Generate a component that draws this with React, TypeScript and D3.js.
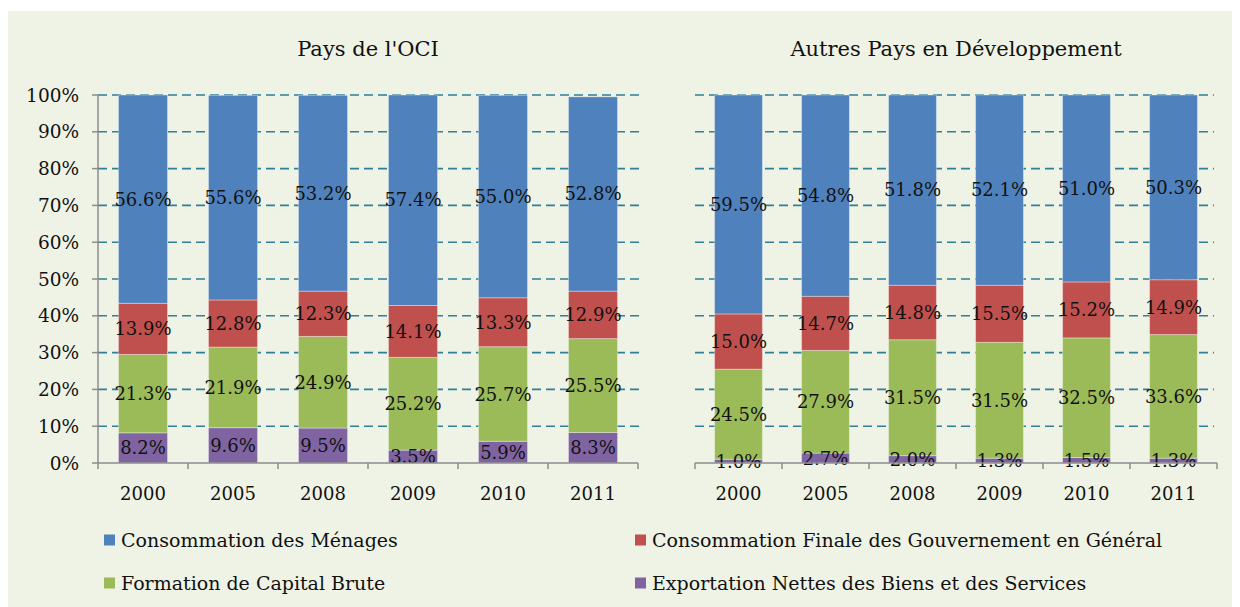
import React from "react";
import * as d3 from "d3";

const years = ["2000", "2005", "2008", "2009", "2010", "2011"];
const seriesNames = [
  "Exportation Nettes des Biens et des Services",
  "Formation de Capital Brute",
  "Consommation Finale des Gouvernement en Général",
  "Consommation des Ménages",
];
const seriesColors = ["#8064a2", "#9bbb59", "#c0504d", "#4f81bd"];

// OCI countries
const ociExports = [8.2, 9.6, 9.5, 3.5, 5.9, 8.3];
const ociCapital = [21.3, 21.9, 24.9, 25.2, 25.7, 25.5];
const ociGov = [13.9, 12.8, 12.3, 14.1, 13.3, 12.9];
const ociHouse = [56.6, 55.6, 53.2, 57.4, 55.0, 52.8];

// Other developing countries
const devExports = [1.0, 2.7, 2.0, 1.3, 1.5, 1.3];
const devCapital = [24.5, 27.9, 31.5, 31.5, 32.5, 33.6];
const devGov = [15.0, 14.7, 14.8, 15.5, 15.2, 14.9];
const devHouse = [59.5, 54.8, 51.8, 52.1, 51.0, 50.3];

const yTicks = [0, 10, 20, 30, 40, 50, 60, 70, 80, 90, 100];

const FONT = "'DejaVu Serif', serif";
const GRID = "#2f7f96";
const AXIS = "#8c8c8c";

type PanelProps = {
  title: string;
  series: number[][];
  x0: number;
  x1: number;
  gridEnd: number;
  pad: number;
  showY: boolean;
};

function Panel({ title, series, x0, x1, gridEnd, pad, showY }: PanelProps) {
  const y = d3.scaleLinear().domain([0, 100]).range([455, 87]).clamp(true);
  const x = d3
    .scaleBand<string>()
    .domain(years)
    .range([x0, x1])
    .paddingInner(pad)
    .paddingOuter(pad / 2);
  const step = x.step();
  const rows = years.map((yr, i) => {
    const o: any = { year: yr };
    series.forEach((s, k) => (o["s" + k] = s[i]));
    return o;
  });
  const stack = d3.stack<any>().keys(series.map((_, k) => "s" + k))(rows);
  return (
    <g>
      <text
        x={(x0 + x1) / 2}
        y={41}
        textAnchor="middle"
        dominantBaseline="central"
        fontSize={21}
        fontFamily={FONT}
        fill="#111"
      >
        {title}
      </text>
      {yTicks
        .filter((t) => t > 0)
        .map((t) => (
          <line
            key={t}
            x1={x0}
            x2={gridEnd}
            y1={y(t)}
            y2={y(t)}
            stroke={GRID}
            strokeWidth={1.6}
            strokeDasharray="9,5"
          />
        ))}
      {stack.map((layer, k) =>
        layer.map((d, i) => (
          <rect
            key={k + "-" + i}
            x={x(years[i])!}
            width={x.bandwidth()}
            y={y(d[1])}
            height={Math.max(0, y(d[0]) - y(d[1]))}
            fill={seriesColors[k]}
            stroke="#ffffff"
            strokeOpacity={0.35}
            strokeWidth={1}
          />
        ))
      )}
      {stack.map((layer, k) =>
        layer.map((d, i) => (
          <text
            key={"l" + k + "-" + i}
            x={x(years[i])! + x.bandwidth() / 2}
            y={y((d[0] + d[1]) / 2)}
            textAnchor="middle"
            dominantBaseline="central"
            fontSize={18}
            fontFamily={FONT}
            fill="#111"
          >
            {series[k][i].toFixed(1) + "%"}
          </text>
        ))
      )}
      {/* x axis */}
      <line x1={x0} x2={x1} y1={y(0)} y2={y(0)} stroke={AXIS} strokeWidth={1.5} />
      {d3.range(years.length + 1).map((j) => (
        <line
          key={"xt" + j}
          x1={x0 + j * step}
          x2={x0 + j * step}
          y1={y(0)}
          y2={y(0) + 6}
          stroke={AXIS}
          strokeWidth={1.5}
        />
      ))}
      {years.map((yr) => (
        <text
          key={"xl" + yr}
          x={x(yr)! + x.bandwidth() / 2}
          y={y(0) + 30}
          textAnchor="middle"
          dominantBaseline="central"
          fontSize={18}
          fontFamily={FONT}
          fill="#111"
        >
          {yr}
        </text>
      ))}
      {showY && (
        <g>
          <line x1={x0} x2={x0} y1={y(100)} y2={y(0)} stroke={AXIS} strokeWidth={1.5} />
          {yTicks.map((t) => (
            <g key={"yt" + t}>
              <line
                x1={x0 - 6}
                x2={x0}
                y1={y(t)}
                y2={y(t)}
                stroke={AXIS}
                strokeWidth={1.5}
              />
              <text
                x={x0 - 19}
                y={y(t)}
                textAnchor="end"
                dominantBaseline="central"
                fontSize={18.5}
                fontFamily={FONT}
                fill="#111"
              >
                {t + "%"}
              </text>
            </g>
          ))}
        </g>
      )}
    </g>
  );
}

const legendOrder = [3, 2, 1, 0];

export default function App() {
  const legendPos = [
    { x: 96, y: 532 },
    { x: 627, y: 532 },
    { x: 96, y: 575 },
    { x: 627, y: 575 },
  ];
  return (
    <svg
      width={1232}
      height={599}
      style={{ display: "block" }}
      viewBox="0 0 1232 599"
    >
      <rect x={0} y={3} width={1232} height={596} fill="#eff3e5" />
      <Panel
        title="Pays de l'OCI"
        series={[ociExports, ociCapital, ociGov, ociHouse]}
        x0={90}
        x1={630}
        gridEnd={632}
        pad={0.455}
        showY={true}
      />
      <Panel
        title="Autres Pays en Développement"
        series={[devExports, devCapital, devGov, devHouse]}
        x0={687}
        x1={1209}
        gridEnd={1206}
        pad={0.45}
        showY={false}
      />
      {legendOrder.map((k, j) => (
        <g key={"lg" + k}>
          <rect
            x={legendPos[j].x}
            y={legendPos[j].y - 5.5}
            width={11}
            height={11}
            fill={seriesColors[k]}
          />
          <text
            x={legendPos[j].x + 17}
            y={legendPos[j].y}
            dominantBaseline="central"
            fontSize={19}
            fontFamily={FONT}
            fill="#111"
          >
            {seriesNames[k]}
          </text>
        </g>
      ))}
    </svg>
  );
}
